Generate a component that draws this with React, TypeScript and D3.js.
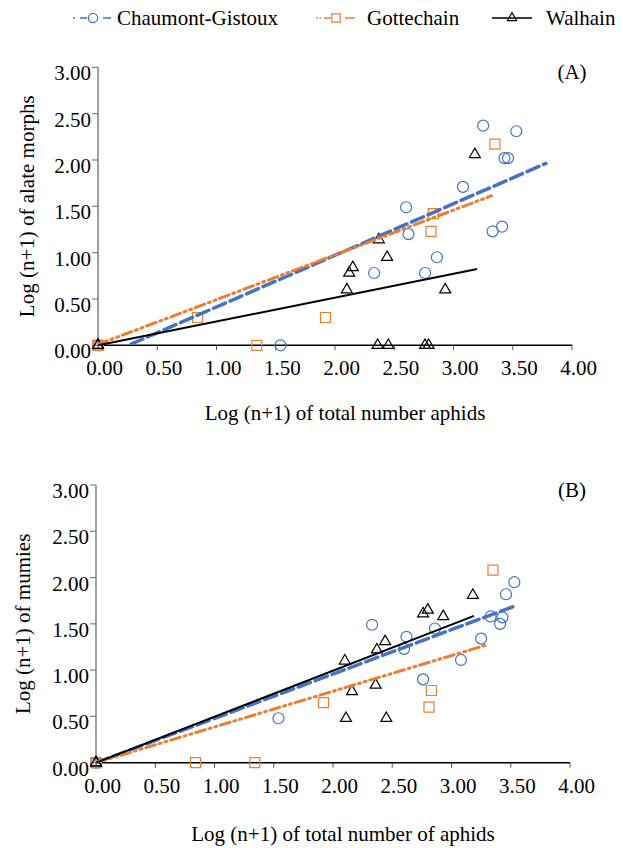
import React from 'react';
import { scaleLinear, line, symbol, symbolCircle, symbolSquare, symbolTriangle, format, range } from 'd3';

// x ticks, y ticks
const xTicks = range(0, 4.01, 0.5);
const yTicks = range(0, 3.01, 0.5);

// panel A : alate morphs
const chaumontA: [number, number][] = [
  [0, 0], [1.54, 0], [3.25, 2.37], [3.53, 2.31], [3.43, 2.02], [3.46, 2.02], [3.08, 1.71],
  [2.6, 1.49], [2.62, 1.2], [3.33, 1.23], [3.41, 1.28], [2.86, 0.95], [2.33, 0.78], [2.76, 0.78]
];
const gottechainA: [number, number][] = [
  [0, 0], [0, 0], [0.84, 0.3], [1.34, 0], [1.92, 0.3], [3.35, 2.17], [2.83, 1.42], [2.81, 1.23]
];
const walhainA: [number, number][] = [
  [0, 0], [0, 0], [3.18, 2.06], [2.37, 1.14], [2.44, 0.95], [2.15, 0.84], [2.12, 0.78],
  [2.1, 0.6], [2.93, 0.6], [2.36, 0], [2.45, 0], [2.76, 0], [2.79, 0]
];
// slope, intercept, x from, x to
const trendA = {
  chaumont: [0.557, -0.143, 0, 3.78],
  gottechain: [0.483, 0.01, 0, 3.32],
  walhain: [0.257, 0, 0, 3.2]
};

// panel B : mumies
const chaumontB: [number, number][] = [
  [0, 0], [1.54, 0.48], [3.53, 1.95], [3.46, 1.82], [3.33, 1.58], [3.43, 1.57], [3.41, 1.5],
  [3.25, 1.34], [3.08, 1.11], [2.33, 1.49], [2.62, 1.36], [2.6, 1.23], [2.86, 1.45], [2.76, 0.9]
];
const gottechainB: [number, number][] = [
  [0, 0], [0, 0], [0.84, 0], [1.34, 0], [1.92, 0.65], [3.35, 2.08], [2.83, 0.78], [2.81, 0.6]
];
const walhainB: [number, number][] = [
  [0, 0], [0, 0], [3.18, 1.81], [2.76, 1.61], [2.8, 1.65], [2.93, 1.58], [2.44, 1.31],
  [2.37, 1.22], [2.1, 1.1], [2.36, 0.84], [2.16, 0.77], [2.11, 0.48], [2.45, 0.48]
];
const trendB = {
  chaumont: [0.479, 0, 0, 3.52],
  gottechain: [0.386, 0, 0, 3.3],
  walhain: [0.497, 0, 0, 3.19]
};

const seriesNames = ['Chaumont-Gistoux', 'Gottechain', 'Walhain'];

const BLUE = '#4472C4';
const ORANGE = '#ED7D31';
const FONT = '"Liberation Serif", "Times New Roman", serif';

const styles = {
  chaumont: { color: BLUE, sym: symbolCircle, size: 95, dash: '13 5', width: 3.5 },
  gottechain: { color: ORANGE, sym: symbolSquare, size: 100, dash: '10 4 2 4 2 4', width: 3 },
  walhain: { color: '#000', sym: symbolTriangle, size: 52, dash: null, width: 2 }
};

const fmt = format('.2f');

const Panel = ({ id, x0, x1, y0, y1, data, trend, xTitle, yTitle, titleY, yTitleX, tag }) => {
  const x = scaleLinear().domain([0, 4]).range([x0, x1]);
  const y = scaleLinear().domain([0, 3]).range([y0, y1]);
  const lineGen = line<number[]>().x(d => x(d[0])).y(d => y(d[1]));

  return (
    <g>
      <defs>
        <clipPath id={id}>
          <rect x={x0} y={y1 - 5} width={x1 - x0 + 10} height={y0 - y1 + 5} />
        </clipPath>
      </defs>
      {/* y axis */}
      <line x1={x0} x2={x0} y1={y1} y2={y0} stroke="#7f7f7f" strokeWidth={1.5} />
      {yTicks.map(t => (
        <g key={t}>
          <line x1={x0 - 6} x2={x0} y1={y(t)} y2={y(t)} stroke="#7f7f7f" strokeWidth={1.2} />
          <text x={x0 - 7} y={y(t) + 13} textAnchor="end">{fmt(t)}</text>
        </g>
      ))}
      {/* x axis */}
      {xTicks.map(t => (
        <g key={t}>
          <line x1={x(t)} x2={x(t)} y1={y0} y2={y0 + 5} stroke="#555" strokeWidth={1} />
          <text x={x(t) + 6.5} y={y0 + 30} textAnchor="middle">{fmt(t)}</text>
        </g>
      ))}
      <line x1={x0} x2={x1} y1={y0} y2={y0} stroke="#000" strokeWidth={1.5} />

      {/* points */}
      {Object.keys(styles).map(k => {
        const s = styles[k];
        const p = symbol(s.sym, s.size)();
        return data[k].map((d, i) => (
          <path key={k + i} d={p} transform={`translate(${x(d[0])},${y(d[1])})`}
            fill="none" stroke={s.color} strokeWidth={1.2} />
        ));
      })}

      {/* trend lines */}
      <g clipPath={`url(#${id})`}>
        {Object.keys(styles).map(k => {
          const s = styles[k];
          const [m, b, xa, xb] = trend[k];
          return (
            <path key={k} d={lineGen([[xa, m * xa + b], [xb, m * xb + b]])} fill="none"
              stroke={s.color} strokeWidth={s.width} strokeDasharray={s.dash || undefined}
              strokeLinecap={k === 'walhain' ? 'butt' : 'round'} />
          );
        })}
      </g>

      <text x={(x0 + x1) / 2 + 10} y={titleY} textAnchor="middle">{xTitle}</text>
      <text transform={`translate(${yTitleX},${(y0 + y1) / 2}) rotate(-90)`} textAnchor="middle"
        dominantBaseline="central">{yTitle}</text>
      <text x={572} y={y1 + 12} textAnchor="middle">{tag}</text>
    </g>
  );
};

const Legend = () => {
  const items = [
    { k: 'chaumont', cx: 93, tx: 117, dash: '2 5 7 16 8 4' },
    { k: 'gottechain', cx: 336, tx: 367, dash: '1.5 2 1.5 3 7 14 10' },
    { k: 'walhain', cx: 512, tx: 546, dash: null }
  ];
  return (
    <g>
      {items.map((it, i) => {
        const s = styles[it.k];
        return (
          <g key={it.k}>
            <line x1={it.cx - 20} x2={it.cx + 20} y1={18} y2={18} stroke={s.color}
              strokeWidth={1.3} strokeDasharray={it.dash || undefined} />
            <path d={symbol(s.sym, s.size * 0.7)()} transform={`translate(${it.cx},18)`}
              fill="none" stroke={s.color} strokeWidth={1.2} />
            <text x={it.tx} y={25}>{seriesNames[i]}</text>
          </g>
        );
      })}
    </g>
  );
};

export default function App() {
  return (
    <svg width={623} height={848} style={{ position: 'absolute', left: 0, top: 0, background: '#fff' }}
      fontFamily={FONT} fontSize={21} fill="#000">
      <rect width={623} height={848} fill="#fff" />
      <Legend />
      <Panel id="clipA" x0={98} x1={572} y0={345.3} y1={67.3}
        data={{ chaumont: chaumontA, gottechain: gottechainA, walhain: walhainA }}
        trend={trendA} xTitle="Log (n+1) of total number aphids" yTitle="Log (n+1) of alate morphs"
        titleY={420} yTitleX={27} tag="(A)" />
      <Panel id="clipB" x0={96} x1={570} y0={762.7} y1={485}
        data={{ chaumont: chaumontB, gottechain: gottechainB, walhain: walhainB }}
        trend={trendB} xTitle="Log (n+1) of total number of aphids" yTitle="Log (n+1) of mumies"
        titleY={841} yTitleX={23} tag="(B)" />
    </svg>
  );
}
